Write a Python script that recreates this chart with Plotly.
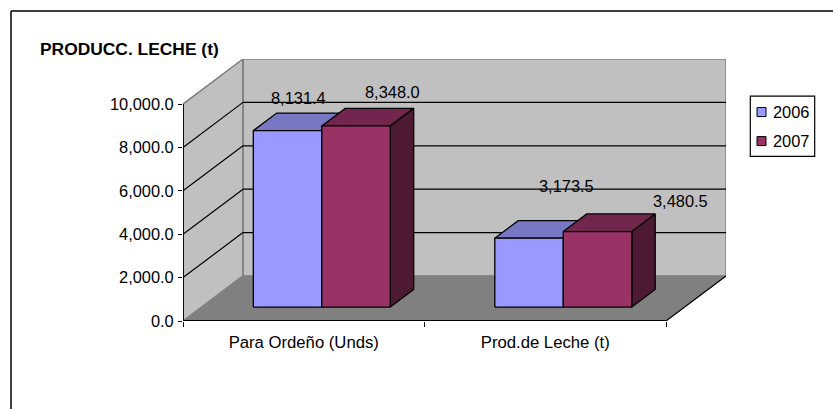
import plotly.graph_objects as go

categories = ["Para Ordeño (Unds)", "Prod.de Leche (t)"]
series_names = ["2006", "2007"]
values_2006 = [8131.4, 3173.5]
values_2007 = [8348.0, 3480.5]
y_ticks = [0, 2000, 4000, 6000, 8000, 10000]
title_text = "PRODUCC. LECHE (t)"

W, H = 833, 409
PX0, PX1, PXB = 183, 666, 726      # front-left, front-right, back-right
PY0, PY10K, PYB = 320.7, 104, 59   # value 0, value 10000, top of back wall
PX_PER_CAT = (PX1 - PX0) / 2
PX_PER_VAL = (PY0 - PY10K) / 10000
DEPTH_X = (PXB - PX1) / PX_PER_CAT
DEPTH_Y = (PY10K - PYB) / PX_PER_VAL

BAR_D0, BAR_D1 = 0.31, 0.70
BAR_W = 68.5 / PX_PER_CAT
BAR_START = (253.3 - PX0) / PX_PER_CAT - BAR_D0 * DEPTH_X
FONT = "Liberation Sans"
FS = 16.4
COL = {"2006": ("#9999FF", "#7777C4", "#5C5C99"), "2007": ("#993366", "#73264D", "#4D1933")}
# label offsets from bar top-centre, in pixels (labels were hand-placed in the source)
LABEL_OFFSETS = {"2006": [(11, 33), (37, 52)], "2007": [(36, 34), (83, 31)]}


def proj(x, v, d):
    return x + d * DEPTH_X, v + d * DEPTH_Y


def poly(pts):
    xs, ys = [], []
    for x, v, d in pts:
        px, py = proj(x, v, d)
        xs.append(px); ys.append(py)
    xs.append(xs[0]); ys.append(ys[0])
    return xs, ys


def add_poly_group(fig, polys, fill, line, width=1.3):
    xs, ys = [], []
    for p in polys:
        a, b = poly(p)
        xs += a + [None]; ys += b + [None]
    fig.add_trace(go.Scatter(x=xs, y=ys, mode="lines", fill="toself" if fill else None,
                             fillcolor=fill, line=dict(color=line, width=width),
                             hoverinfo="skip", showlegend=False, cliponaxis=False))


def add_lines(fig, segs, color, width):
    xs, ys = [], []
    for a, b in segs:
        pa, pb = proj(*a), proj(*b)
        xs += [pa[0], pb[0], None]; ys += [pa[1], pb[1], None]
    fig.add_trace(go.Scatter(x=xs, y=ys, mode="lines", line=dict(color=color, width=width),
                             hoverinfo="skip", showlegend=False, cliponaxis=False))


fig = go.Figure()
n = len(categories)
vmax = y_ticks[-1]
# walls and floor
add_poly_group(fig, [[(0, 0, 0), (0, vmax, 0), (0, vmax, 1), (0, 0, 1)],
                     [(0, 0, 1), (0, vmax, 1), (n, vmax, 1), (n, 0, 1)]], "#C0C0C0", "#808080", 1.5)
add_poly_group(fig, [[(0, 0, 0), (n, 0, 0), (n, 0, 1), (0, 0, 1)]], "#808080", "#808080", 1)
# grid
inner = y_ticks[1:-1]
add_lines(fig, [((0, v, 1), (n, v, 1)) for v in inner], "#000000", 1.2)
add_lines(fig, [((0, v, 0), (0, v, 1)) for v in inner], "#000000", 1.2)
add_lines(fig, [((n, 0, 0), (n, 0, 1))], "#000000", 1.2)
add_lines(fig, [((0, 0, 0), (0, vmax, 0))], "#000000", 1.8)
add_lines(fig, [((0, 0, 0), (n, 0, 0))], "#000000", 2)

# bars
annotations = []
for s, (name, vals) in enumerate(zip(series_names, [values_2006, values_2007])):
    front, top, side = [], [], []
    for c, v in enumerate(vals):
        x0 = c + BAR_START + s * BAR_W
        x1 = x0 + BAR_W
        front.append([(x0, 0, BAR_D0), (x1, 0, BAR_D0), (x1, v, BAR_D0), (x0, v, BAR_D0)])
        top.append([(x0, v, BAR_D0), (x1, v, BAR_D0), (x1, v, BAR_D1), (x0, v, BAR_D1)])
        side.append([(x1, 0, BAR_D0), (x1, 0, BAR_D1), (x1, v, BAR_D1), (x1, v, BAR_D0)])
        ax, ay = proj((x0 + x1) / 2, v, BAR_D0)
        ox, oy = LABEL_OFFSETS[name][c]
        annotations.append(dict(x=ax, y=ay, xref="x", yref="y", text=f"{v:,.1f}", showarrow=False,
                                xshift=ox, yshift=oy, font=dict(family=FONT, size=FS, color="#000000")))
    ff, ft, fd = COL[name]
    add_poly_group(fig, top, ft, "#000000")
    add_poly_group(fig, side, fd, "#000000")
    add_poly_group(fig, front, ff, "#000000")

# paper coordinate helpers for chart furniture
pl, pr, pt, pb = PX0, W - PXB, PYB, H - PY0
pw, ph = W - pl - pr, H - pt - pb
px = lambda v: (v - pl) / pw
py = lambda v: 1 - (v - pt) / ph

shapes = [
    dict(type="line", xref="paper", yref="paper", x0=px(11), x1=px(W), y0=py(11), y1=py(11),
         line=dict(color="#000000", width=1.5)),
    dict(type="line", xref="paper", yref="paper", x0=px(11), x1=px(11), y0=py(11), y1=py(H),
         line=dict(color="#000000", width=1.5)),
    dict(type="rect", xref="paper", yref="paper", x0=px(750.3), x1=px(814.7), y0=py(96), y1=py(156.3),
         line=dict(color="#000000", width=1.2), fillcolor="#FFFFFF"),
]
for name, yc in zip(series_names, [112, 141]):
    shapes.append(dict(type="rect", xref="paper", yref="paper", x0=px(757), x1=px(766), y0=py(yc - 4.5),
                       y1=py(yc + 4.5), line=dict(color="#000000", width=1), fillcolor=COL[name][0]))
    annotations.append(dict(xref="paper", yref="paper", x=px(771), y=py(yc), text=name, showarrow=False,
                            xanchor="left", yanchor="middle", font=dict(family=FONT, size=FS, color="#000000")))

fig.update_layout(
    width=W, height=H, margin=dict(l=pl, r=pr, t=pt, b=pb, autoexpand=False),
    paper_bgcolor="#FFFFFF", plot_bgcolor="rgba(0,0,0,0)", showlegend=False,
    font=dict(family=FONT, size=FS, color="#000000"),
    title=dict(text=f"<b>{title_text}</b>", x=40 / W, xref="container", xanchor="left",
               y=1 - 49 / H, yref="container", yanchor="middle", font=dict(family=FONT, size=17.4)),
    xaxis=dict(range=[0, n + DEPTH_X], tickvals=[i + 0.5 for i in range(n)], ticktext=categories,
               tickfont=dict(size=16.7),
               ticks="", ticklen=0, showgrid=False, zeroline=False, showline=False,
               ticklabelstandoff=9,
               minor=dict(tickvals=list(range(n + 1)), ticks="outside", ticklen=5, tickcolor="#000000", tickwidth=1.3, showgrid=False)),
    yaxis=dict(range=[0, vmax + DEPTH_Y], tickvals=y_ticks, tickformat=",.1f", ticks="outside",
               ticklen=4, tickwidth=1.3, tickcolor="#000000", showgrid=False, zeroline=False, showline=False,
               ticklabelstandoff=1),
    shapes=shapes, annotations=annotations,
)
fig.write_html("out.html", config={"displayModeBar": False},
               post_script="document.body.style.margin='0';document.body.style.overflow='hidden';")
